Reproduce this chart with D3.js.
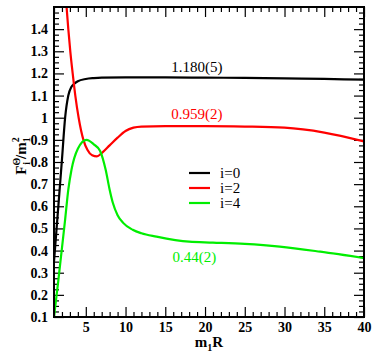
<!DOCTYPE html>
<html>
<head>
<meta charset="utf-8">
<script src="https://cdn.jsdelivr.net/npm/d3@7"></script>
<style>
  body { margin: 0; background: #fff; }
</style>
</head>
<body>
<svg id="chart" width="374" height="358"></svg>
<script>
// series
var xI0 = [1, 1.5, 2, 2.4, 2.8, 3.2, 3.6, 4, 5, 6, 7, 10, 15, 20, 25, 30, 35, 40];
var yI0 = [0.35, 0.58, 0.81, 1.0, 1.1, 1.14, 1.155, 1.165, 1.175, 1.179, 1.181, 1.182, 1.182, 1.181, 1.18, 1.178, 1.175, 1.172];

var xI2 = [2.45, 2.8, 3.05, 3.35, 3.68, 4.1, 4.7, 5.2, 5.8, 6.4, 7, 8, 9, 10, 11, 12, 15, 20, 25, 30, 35, 40];
var yI2 = [1.56, 1.4, 1.3, 1.2, 1.1, 1.0, 0.9, 0.855, 0.83, 0.825, 0.84, 0.875, 0.91, 0.94, 0.955, 0.96, 0.962, 0.962, 0.96, 0.955, 0.933, 0.893];

var xI4 = [1, 1.55, 2.4, 2.8, 3.2, 4, 5.1, 6, 6.8, 7.5, 8, 8.4, 9, 9.7, 10.9, 12, 13.9, 18, 21, 25, 29.4, 34.5, 40];
var yI4 = [0.1, 0.267, 0.54, 0.675, 0.765, 0.86, 0.9, 0.88, 0.85, 0.765, 0.675, 0.616, 0.56, 0.525, 0.494, 0.478, 0.463, 0.44, 0.436, 0.43, 0.418, 0.395, 0.366];

var seriesNames = ["i=0", "i=2", "i=4"];
var seriesColors = ["#000000", "#ff0000", "#00ee00"];

var xTicks = [5, 10, 15, 20, 25, 30, 35, 40];
var yTicks = [0.1, 0.2, 0.3, 0.4, 0.5, 0.6, 0.7, 0.8, 0.9, 1.0, 1.1, 1.2, 1.3, 1.4];

// fitted values written on the curves
var notes = [
  { text: "1.180(5)", x: 22.2, y: 1.205, color: "#000000" },
  { text: "0.959(2)", x: 22.2, y: 0.995, color: "#ff0000" },
  { text: "0.44(2)", x: 21.4, y: 0.347, color: "#00ee00" }
];

var SERIF = "'Liberation Serif', 'Times New Roman', Times, 'DejaVu Serif', serif";

var svg = d3.select("#chart");
var plotL = 54, plotR = 364, plotT = 7, plotB = 317;

var x = d3.scaleLinear().domain([1, 40]).range([plotL, plotR]);
var y = d3.scaleLinear().domain([0.1, 1.5]).range([plotB, plotT]);

svg.append("defs").append("clipPath").attr("id", "plotClip")
  .append("rect")
  .attr("x", plotL).attr("y", plotT)
  .attr("width", plotR - plotL).attr("height", plotB - plotT);

var xMinor = d3.range(1, 41, 1).filter(function (d) { return d % 5 !== 0; });
var yMinor = d3.range(0, 57).map(function (i) { return +(0.1 + i * 0.025).toFixed(3); })
  .filter(function (d) { return Math.abs(d * 10 - Math.round(d * 10)) > 1e-6; });

function styleAxis(g) {
  g.select(".domain").remove();
  g.attr("font-family", null);
  g.selectAll(".tick line").attr("stroke", "#000").attr("stroke-width", 1.2);
  g.selectAll(".tick text")
    .attr("font-weight", "bold")
    .attr("font-size", 14)
    .attr("fill", "#000");
}

// bottom
svg.append("g").attr("transform", "translate(0," + plotB + ")")
  .call(d3.axisBottom(x).tickValues(xTicks).tickSize(-10).tickPadding(5).tickFormat(d3.format("d")))
  .call(styleAxis);
svg.append("g").attr("transform", "translate(0," + plotB + ")")
  .call(d3.axisBottom(x).tickValues(xMinor).tickSize(-5).tickFormat(""))
  .call(styleAxis);
// top
svg.append("g").attr("transform", "translate(0," + plotT + ")")
  .call(d3.axisTop(x).tickValues(xTicks).tickSize(-10).tickFormat(""))
  .call(styleAxis);
svg.append("g").attr("transform", "translate(0," + plotT + ")")
  .call(d3.axisTop(x).tickValues(xMinor).tickSize(-5).tickFormat(""))
  .call(styleAxis);
// left
svg.append("g").attr("transform", "translate(" + plotL + ",0)")
  .call(d3.axisLeft(y).tickValues(yTicks).tickSize(-10).tickPadding(6)
    .tickFormat(function (d) { return d === 1 ? "1" : d3.format(".1f")(d); }))
  .call(styleAxis);
svg.append("g").attr("transform", "translate(" + plotL + ",0)")
  .call(d3.axisLeft(y).tickValues(yMinor).tickSize(-5).tickFormat(""))
  .call(styleAxis);
// right
svg.append("g").attr("transform", "translate(" + plotR + ",0)")
  .call(d3.axisRight(y).tickValues(yTicks).tickSize(-10).tickFormat(""))
  .call(styleAxis);
svg.append("g").attr("transform", "translate(" + plotR + ",0)")
  .call(d3.axisRight(y).tickValues(yMinor).tickSize(-5).tickFormat(""))
  .call(styleAxis);

// curves
var line = d3.line()
  .x(function (d) { return x(d[0]); })
  .y(function (d) { return y(d[1]); })
  .curve(d3.curveMonotoneX);

var series = [d3.zip(xI0, yI0), d3.zip(xI2, yI2), d3.zip(xI4, yI4)];
var curves = svg.append("g").attr("clip-path", "url(#plotClip)");
series.forEach(function (pts, i) {
  curves.append("path")
    .datum(pts)
    .attr("d", line)
    .attr("fill", "none")
    .attr("stroke", seriesColors[i])
    .attr("stroke-width", 2.2);
});

// frame
svg.append("rect")
  .attr("x", plotL).attr("y", plotT)
  .attr("width", plotR - plotL).attr("height", plotB - plotT)
  .attr("fill", "none").attr("stroke", "#000").attr("stroke-width", 2);

// notes
notes.forEach(function (n) {
  svg.append("text")
    .attr("x", x(n.x)).attr("y", y(n.y))
    .attr("text-anchor", "end")
    .attr("font-size", 15)
    .attr("fill", n.color)
    .text(n.text);
});

// legend
var legend = svg.append("g").attr("transform", "translate(189,173)");
seriesNames.forEach(function (name, i) {
  var row = legend.append("g").attr("transform", "translate(0," + (i * 15) + ")");
  row.append("line")
    .attr("x1", 0).attr("x2", 21).attr("y1", 0).attr("y2", 0)
    .attr("stroke", seriesColors[i]).attr("stroke-width", 2.2);
  row.append("text")
    .attr("x", 31).attr("y", 5)
    .attr("font-size", 15)
    .text(name);
});

// x label
var xl = svg.append("text")
  .attr("x", (plotL + plotR) / 2).attr("y", 347)
  .attr("text-anchor", "middle")
  .attr("font-weight", "bold").attr("font-size", 15);
xl.append("tspan").text("m");
xl.append("tspan").attr("font-size", 10).attr("dy", 4).text("1");
xl.append("tspan").attr("dy", -4).text("R");

// y label
var yl = svg.append("text")
  .attr("transform", "translate(26,156) rotate(-90)")
  .attr("text-anchor", "middle")
  .attr("font-weight", "bold").attr("font-size", 15);
yl.append("tspan").text("F");
yl.append("tspan").attr("font-size", 10).attr("dy", -6).text("\u0398");
yl.append("tspan").attr("font-size", 10).attr("dx", -7).attr("dy", 10).text("i");
yl.append("tspan").attr("dx", 3).attr("dy", -4).text("/m");
yl.append("tspan").attr("font-size", 10).attr("dy", 4).text("1");
yl.append("tspan").attr("font-size", 10).attr("dx", -5).attr("dy", -11).text("2");

svg.selectAll("text").style("font-family", SERIF);
</script>
</body>
</html>
